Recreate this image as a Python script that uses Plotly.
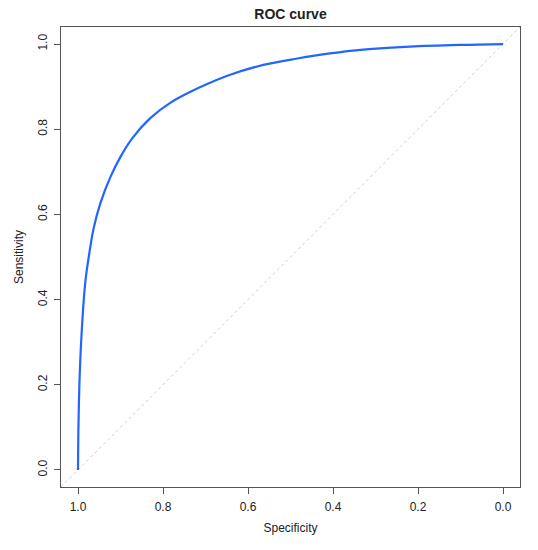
import plotly.graph_objects as go

# ROC curve values
specificity = [1.0, 0.9988, 0.9958, 0.9901, 0.9824, 0.970, 0.9636, 0.9471, 0.9236,
               0.9001, 0.872, 0.830, 0.783, 0.712, 0.642, 0.564, 0.484, 0.407,
               0.329, 0.219, 0.100, 0.0]
sensitivity = [0.0, 0.110, 0.228, 0.345, 0.445, 0.530, 0.566, 0.627, 0.688, 0.735,
               0.779, 0.826, 0.862, 0.899, 0.928, 0.951, 0.966, 0.978, 0.987,
               0.994, 0.998, 1.0]

tick_vals = [0.0, 0.2, 0.4, 0.6, 0.8, 1.0]
tick_text = ["0.0", "0.2", "0.4", "0.6", "0.8", "1.0"]

x_range = [1.04, -0.04]
y_range = [-0.04, 1.04]

# reference diagonal (sens = 1 - spec) spanning the plotting region
diag_x = list(x_range)
diag_y = [1 - v for v in diag_x]

FONT = "Liberation Sans, Arial, Helvetica, sans-serif"
TXT = "#222222"
AX = "#555555"

W, H = 538, 550

fig = go.Figure()
fig.add_trace(go.Scatter(x=diag_x, y=diag_y, mode="lines",
                         line=dict(color="#cfcfcf", width=1, dash="dot"),
                         hoverinfo="skip", showlegend=False))
fig.add_trace(go.Scatter(x=specificity, y=sensitivity, mode="lines",
                         line=dict(color="#2266ff", width=2.2, shape="spline", smoothing=1.0),
                         showlegend=False))

fig.update_layout(
    width=W, height=H,
    margin=dict(l=60.5, r=18, t=27, b=63),
    paper_bgcolor="white", plot_bgcolor="white",
    font=dict(family=FONT, size=12, color=TXT),
    title=dict(text="<b>ROC curve</b>", x=0.5, xref="paper", xanchor="center",
               y=1 - 14 / H, yref="container", yanchor="middle",
               font=dict(size=14, color=TXT)),
)
fig.update_xaxes(range=x_range, tickvals=tick_vals, ticktext=tick_text,
                 showgrid=False, zeroline=False, automargin=False,
                 showline=True, mirror=True, linecolor=AX, linewidth=1,
                 ticks="outside", ticklen=6, tickcolor=AX, tickwidth=1,
                 ticklabelstandoff=3,
                 tickfont=dict(size=12, color=TXT),
                 title=dict(text="Specificity", font=dict(size=12, color=TXT), standoff=10))
fig.update_yaxes(range=y_range, tickvals=tick_vals, ticktext=tick_text,
                 showgrid=False, zeroline=False, automargin=False,
                 showline=True, mirror=True, linecolor=AX, linewidth=1,
                 ticks="outside", ticklen=6, tickcolor=AX, tickwidth=1,
                 tickangle=-90, ticklabelstandoff=2,
                 tickfont=dict(size=12, color=TXT),
                 title=dict(text="Sensitivity", font=dict(size=12, color=TXT), standoff=10))

fig.write_html("out.html",
               config={"displayModeBar": False},
               post_script="document.body.style.margin='0';document.body.style.overflow='hidden';")
